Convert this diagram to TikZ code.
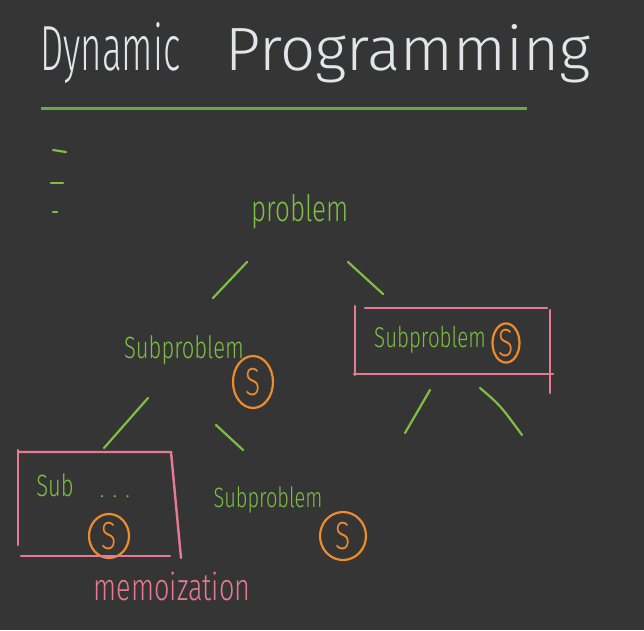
\documentclass[tikz,border=0pt]{standalone}
\usepackage{fontspec}
\IfFontExistsTF{Fira Sans Light}{\setmainfont{Fira Sans Light}}{\setmainfont{Liberation Sans}}
\usetikzlibrary{shapes.geometric}
\definecolor{bg}{HTML}{353535}
\definecolor{chalk}{HTML}{E2E6EA}
\definecolor{grn}{HTML}{7DBE45}
\definecolor{ttl}{HTML}{6AAA3C}
\definecolor{pnk}{HTML}{E57A92}
\definecolor{org}{HTML}{EC8C2C}
\newcommand\handtall[1]{\scalebox{1}[1.4]{#1}}
\begin{document}
\begin{tikzpicture}[x=1pt,y=-1pt,
  greentext/.style={text=grn,font=\fontsize{22}{22}\selectfont,inner sep=0pt},
  titletext/.style={text=chalk,anchor=base west,inner sep=0pt},
  branch/.style={draw=grn,line width=2.2pt,line cap=round},
  memobox/.style={draw=pnk,line width=2.4pt,line cap=round},
  cached/.style={ellipse,draw=org,line width=2.2pt,text=org,font=\fontsize{28}{28}\selectfont,inner sep=0pt}]
\fill[bg] (0,0) rectangle (644,630);
\useasboundingbox (0,0) rectangle (644,630);

% title
\node[titletext] (t1) at (40,70) {\resizebox{140pt}{48pt}{Dynamic}};
\node[titletext] (t2) at (225,70) {\resizebox{365pt}{46pt}{Programming}};
\draw[ttl,line width=3pt] (41,108) -- (527,108);

% dashes
\draw[branch] (53,150) -- (66,152);
\draw[branch] (51,183) -- (63,183);
\draw[branch] (53,212) -- (57,212);

% tree texts
\node[greentext,font=\fontsize{26}{26}\selectfont] (root) at (300,212) {\handtall{problem}};
\node[greentext] (left) at (184,350) {\handtall{Subproblem}};
\node[cached,minimum width=40pt,minimum height=52pt] (sL) at (253,382) {\handtall{S}};
\node[greentext,font=\fontsize{20.5}{20.5}\selectfont] (right) at (430,340) {\handtall{Subproblem}};
\node[cached,minimum width=27pt,minimum height=38pt] (sR) at (506,343) {\handtall{S}};
\node[greentext] (ll) at (55,485) {\handtall{Sub}};
\node[greentext] (dots) at (115,497) {. . .};
\node[cached,minimum width=40pt,minimum height=44pt] (sLL) at (109,536) {\handtall{S}};
\node[greentext,font=\fontsize{20}{20}\selectfont] (lm) at (268,500) {\handtall{Subproblem}};
\node[cached,minimum width=46pt,minimum height=48pt] (sLM) at (343,536) {\handtall{S}};
\node[text=pnk,font=\fontsize{27}{27}\selectfont,inner sep=0pt] (memo) at (172,586) {\handtall{memoization}};

% branches
\coordinate (a1) at (247,262); \coordinate (a2) at (213,298);
\coordinate (b1) at (348,262); \coordinate (b2) at (383,294);
\coordinate (c1) at (148,398); \coordinate (c2) at (104,448);
\coordinate (d1) at (216,425); \coordinate (d2) at (243,450);
\coordinate (e1) at (430,390); \coordinate (e2) at (405,433);
\coordinate (f1) at (480,388); \coordinate (f2) at (522,435);
\draw[branch] (a1) -- (a2);
\draw[branch] (b1) -- (b2);
\draw[branch] (c1) -- (c2);
\draw[branch] (d1) -- (d2);
\draw[branch] (e1) -- (e2);
\draw[branch] (f1) .. controls (500,405) .. (f2);

% memo boxes
\draw[memobox] (365,308) -- (547,308);
\draw[memobox] (355,306) -- (355,375);
\draw[memobox] (354,374) -- (553,374);
\draw[memobox] (550,310) -- (550,393);
\draw[memobox] (19,452) -- (171,452) -- (181,558);
\draw[memobox] (18,450) -- (18,545);
\draw[memobox] (21,556) -- (170,556);
\end{tikzpicture}
\end{document}
